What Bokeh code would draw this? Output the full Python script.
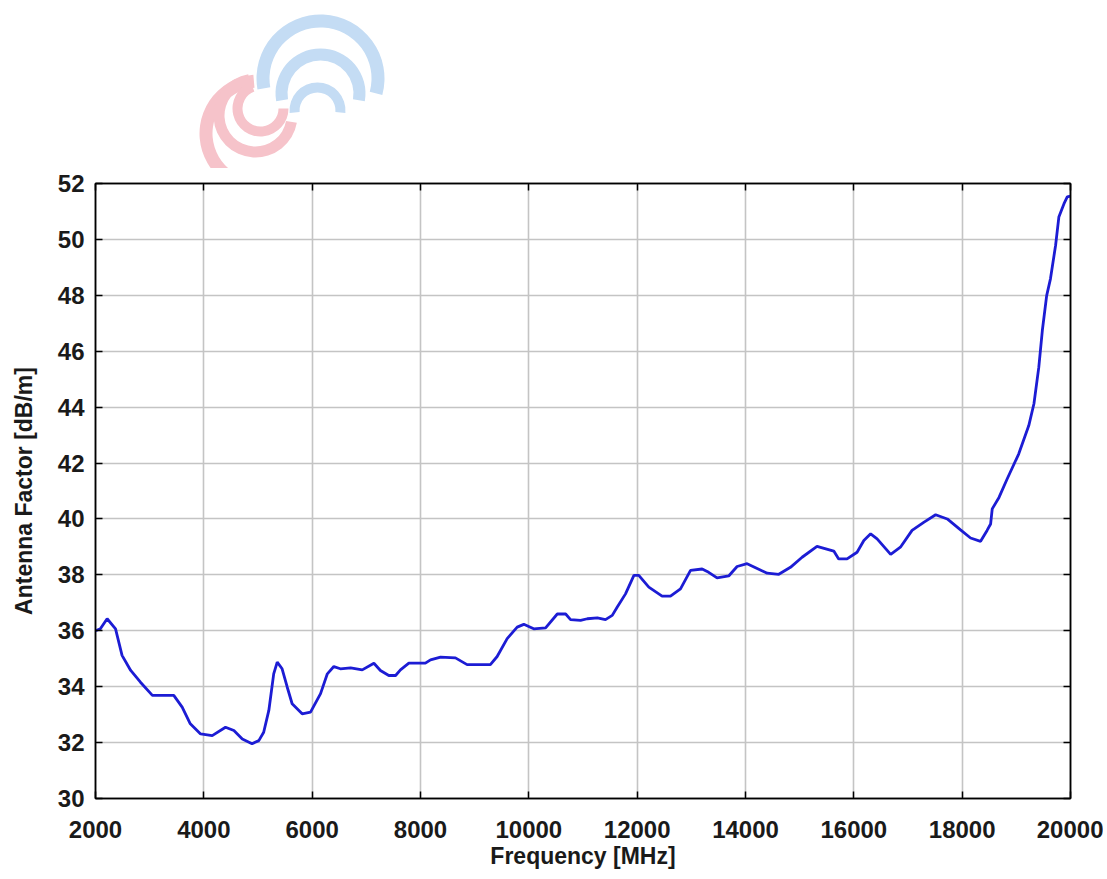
from bokeh.plotting import figure
from bokeh.layouts import column
from bokeh.models import Range1d, FixedTicker, LinearAxis, CustomJSTickFormatter
from bokeh.embed import file_html
from bokeh.resources import INLINE
import math

# ---------------- data ----------------
freq_mhz = [2000, 2090, 2215, 2370, 2490, 2650, 2830, 3050, 3230, 3445, 3600, 3750, 3940,
            4155, 4400, 4555, 4710, 4890, 5015, 5105, 5200, 5290, 5355, 5445, 5540, 5630,
            5815, 5970, 6155, 6280, 6400, 6520, 6710, 6925, 7140, 7260, 7415, 7540, 7630,
            7785, 8090, 8185, 8370, 8645, 8860, 9290, 9415, 9600, 9785, 9907, 10090, 10310,
            10525, 10680, 10770, 10955, 11080, 11265, 11415, 11540, 11630, 11785, 11940,
            12030, 12215, 12460, 12615, 12800, 12985, 13200, 13320, 13475, 13690, 13845,
            14030, 14215, 14400, 14615, 14830, 15045, 15320, 15630, 15720, 15875, 16060,
            16185, 16310, 16430, 16680, 16860, 17075, 17290, 17510, 17725, 17970, 18155,
            18340, 18460, 18525, 18555, 18680, 18830, 19045, 19230, 19325, 19415, 19480,
            19560, 19630, 19725, 19785, 19880, 19940, 20000]
antenna_factor = [36.00, 36.07, 36.43, 36.07, 35.12, 34.58, 34.16, 33.69, 33.69, 33.69, 33.27,
                  32.67, 32.31, 32.25, 32.55, 32.43, 32.13, 31.96, 32.07, 32.37, 33.15, 34.46,
                  34.88, 34.64, 33.98, 33.39, 33.03, 33.09, 33.75, 34.46, 34.72, 34.64, 34.67,
                  34.60, 34.84, 34.58, 34.40, 34.40, 34.60, 34.84, 34.84, 34.96, 35.06, 35.03,
                  34.79, 34.79, 35.08, 35.72, 36.13, 36.23, 36.07, 36.10, 36.60, 36.60, 36.40,
                  36.37, 36.43, 36.46, 36.40, 36.55, 36.84, 37.32, 37.98, 37.98, 37.56, 37.24,
                  37.24, 37.50, 38.16, 38.21, 38.09, 37.89, 37.96, 38.30, 38.40, 38.23, 38.06,
                  38.02, 38.27, 38.63, 39.02, 38.85, 38.57, 38.57, 38.81, 39.23, 39.47, 39.29,
                  38.73, 38.99, 39.59, 39.88, 40.15, 40.00, 39.61, 39.32, 39.20, 39.59, 39.82,
                  40.36, 40.77, 41.43, 42.33, 43.34, 44.12, 45.43, 46.74, 47.99, 48.59, 49.79,
                  50.80, 51.28, 51.52, 51.55]
x_ticks = [2000, 4000, 6000, 8000, 10000, 12000, 14000, 16000, 18000, 20000]
y_ticks = [30, 32, 34, 36, 38, 40, 42, 44, 46, 48, 50, 52]

FONT = "Liberation Sans"
W = 1103
WM_H = 168
B_LEFT, B_RIGHT = 95, 33

# ---------------- watermark (decorative logo) ----------------
wm = figure(width=W, height=WM_H, output_backend="svg", toolbar_location=None,
            x_range=Range1d(B_LEFT, W - B_RIGHT), y_range=Range1d(-WM_H, 0),
            x_axis_location=None, y_axis_location=None,
            min_border_left=B_LEFT, min_border_right=B_RIGHT, min_border_top=0,
            min_border_bottom=0, outline_line_color=None)
wm.grid.visible = False
d = math.pi / 180
# blue crescents
wm.annular_wedge(x=[320, 320, 317], y=[-78, -93, -110],
                 inner_radius=[51, 33, 18], outer_radius=[64, 45, 28],
                 start_angle=[-15 * d, -10 * d, -5 * d], end_angle=[190 * d, 190 * d, 185 * d],
                 fill_color="#c4dcf4", line_color=None)
# pink crescents
wm.annular_wedge(x=[258, 255, 260], y=[-133, -115, -108],
                 inner_radius=[46, 31, 18], outer_radius=[59, 42, 28],
                 start_angle=[95 * d, 100 * d, 110 * d], end_angle=[300 * d, 350 * d, 360 * d],
                 fill_color="#f6c3ca", line_color=None)

# ---------------- main chart ----------------
p = figure(width=W, height=705, output_backend="svg", toolbar_location=None,
           x_range=Range1d(2000, 20000), y_range=Range1d(30, 52),
           min_border_left=B_LEFT, min_border_right=B_RIGHT, min_border_top=15,
           min_border_bottom=75,
           outline_line_color="black", outline_line_width=1.5)

p.line(freq_mhz, antenna_factor, line_color="#1c1cd4", line_width=2.8)

p.xaxis.ticker = FixedTicker(ticks=x_ticks)
p.yaxis.ticker = FixedTicker(ticks=y_ticks)
p.xgrid.ticker = FixedTicker(ticks=x_ticks)
p.ygrid.ticker = FixedTicker(ticks=y_ticks)
p.grid.grid_line_color = "#c4c4c4"
p.grid.grid_line_width = 1.6

for ax in (p.xaxis[0], p.yaxis[0]):
    ax.major_tick_in = 7
    ax.major_tick_out = 0
    ax.minor_tick_line_color = None
    ax.major_tick_line_color = "black"
    ax.major_tick_line_width = 1.5
    ax.axis_line_color = "black"
    ax.axis_line_width = 1.5
    ax.major_label_text_font = FONT
    ax.major_label_text_font_style = "bold"
    ax.major_label_text_font_size = "24px"
    ax.major_label_text_color = "#1a1a1a"
    ax.axis_label_text_font = FONT
    ax.axis_label_text_font_style = "bold"
    ax.axis_label_text_font_size = "23px"
    ax.axis_label_text_color = "#1a1a1a"

p.xaxis.axis_label = "Frequency [MHz]"
p.yaxis.axis_label = "Antenna Factor [dB/m]"
p.xaxis.major_label_standoff = 22
p.xaxis.axis_label_standoff = 2
p.yaxis.major_label_standoff = 11
p.yaxis.axis_label_standoff = 18

blank = CustomJSTickFormatter(code="return ''")
right_ax = LinearAxis(ticker=FixedTicker(ticks=y_ticks), formatter=blank)
top_ax = LinearAxis(ticker=FixedTicker(ticks=x_ticks), formatter=blank)
for ax in (right_ax, top_ax):
    ax.major_tick_in = 7
    ax.major_tick_out = 0
    ax.minor_tick_line_color = None
    ax.major_tick_line_color = "black"
    ax.major_tick_line_width = 1.5
    ax.axis_line_color = "black"
    ax.axis_line_width = 1.5
    ax.major_label_text_font_size = "0px"
    ax.major_label_text_color = None
    ax.major_label_standoff = 0
p.add_layout(right_ax, "right")
p.add_layout(top_ax, "above")

layout = column(wm, p, spacing=0)
open("out.html", "w").write(file_html(layout, INLINE))
